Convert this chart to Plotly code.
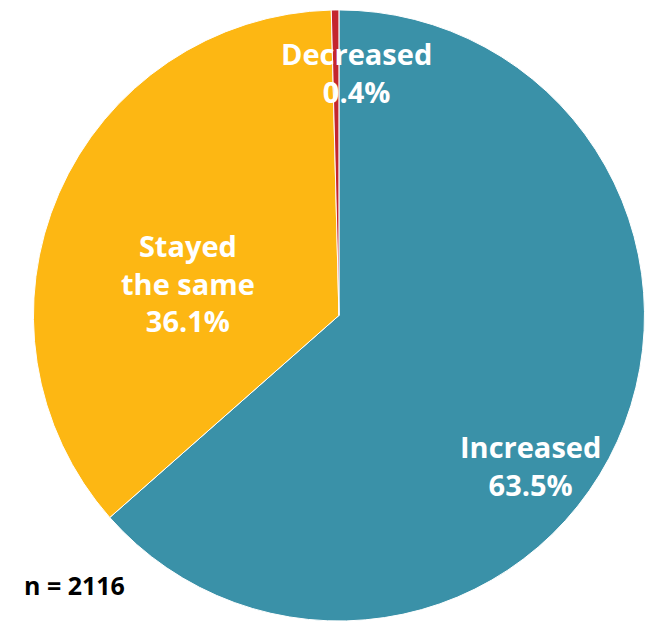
import plotly.graph_objects as go

categories = ["Increased", "Stayed the same", "Decreased"]
label_lines = ["Increased", "Stayed<br>the same", "Decreased"]
values = [63.5, 36.1, 0.4]
colors = ["#3A91A8", "#FDB713", "#C4262E"]
n_text = "n = 2116"

fig = go.Figure(go.Pie(
    labels=categories,
    values=values,
    sort=False,
    direction="clockwise",
    rotation=0,
    marker=dict(colors=colors, line=dict(color="white", width=1)),
    textinfo="none",
    hoverinfo="label+percent",
    domain=dict(x=[0.051, 1.0], y=[0.0, 0.984]),
    showlegend=False,
))

label_pos = [(0.823, 0.251), (0.291, 0.545), (0.553, 0.884)]
font = dict(family="Open Sans, sans-serif", size=29, color="white")
for txt, v, (x, y) in zip(label_lines, values, label_pos):
    fig.add_annotation(x=x, y=y, xref="paper", yref="paper",
                       text=f"<b>{txt}<br>{v:.1f}%</b>", showarrow=False,
                       font=font, align="center", xanchor="center", yanchor="middle")

fig.add_annotation(x=0.034, y=0.058, xref="paper", yref="paper",
                   text=f"<b>{n_text}</b>", showarrow=False,
                   font=dict(family="Open Sans, sans-serif", size=25, color="black"),
                   xanchor="left", yanchor="middle")

fig.update_layout(width=645, height=621, margin=dict(l=0, r=0, t=0, b=0),
                  paper_bgcolor="white", plot_bgcolor="white")
fig.write_html("out.html", config={"displayModeBar": False},
               post_script="document.body.style.margin='0';document.body.style.overflow='hidden';")
